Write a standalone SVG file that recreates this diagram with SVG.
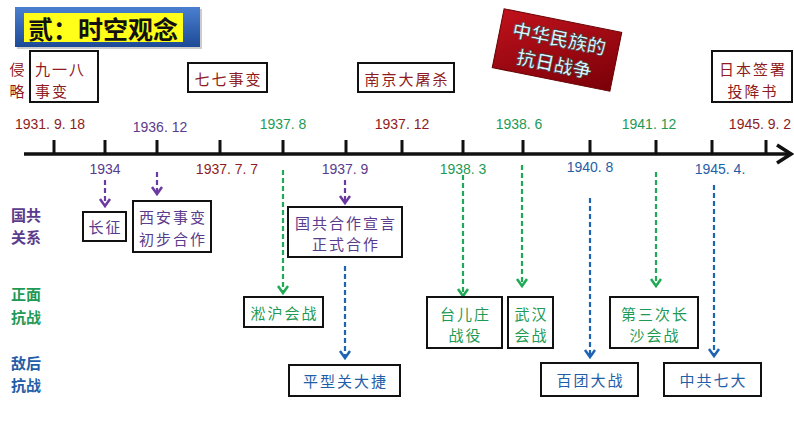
<svg xmlns="http://www.w3.org/2000/svg" width="794" height="447" viewBox="0 0 794 447">
<defs>
<style>
.t{font-family:"Noto Sans CJK SC","Liberation Sans",sans-serif;font-size:15px;dominant-baseline:central;text-anchor:middle;letter-spacing:2px}
.s{text-anchor:start}
.n{font-family:"Liberation Sans","DejaVu Sans",sans-serif;font-size:14px;dominant-baseline:central;text-anchor:middle}
.box{fill:#fff;stroke:#111;stroke-width:2}
.red{fill:#8e1b22}.pur{fill:#5a3b8c}.grn{fill:#1e9a55}.blu{fill:#1f5ea8}
.cat{font-family:"Noto Sans CJK SC",sans-serif;font-size:15px;font-weight:bold;dominant-baseline:central;text-anchor:middle}
.dp{stroke:#6a3aa0;stroke-width:2.2;stroke-dasharray:5 3;fill:none}
.dg{stroke:#1eaa55;stroke-width:2.2;stroke-dasharray:5 3;fill:none}
.db{stroke:#1f64b4;stroke-width:2.2;stroke-dasharray:5 3;fill:none}
.hp{stroke:#6a3aa0;stroke-width:2.5;fill:none}
.hg{stroke:#1eaa55;stroke-width:2.5;fill:none}
.hb{stroke:#1f64b4;stroke-width:2.5;fill:none}
</style>
<linearGradient id="bg" x1="0" y1="0" x2="0" y2="1"><stop offset="0" stop-color="#4a80d0"/><stop offset="1" stop-color="#1d4a96"/></linearGradient>
<linearGradient id="rg" x1="0" y1="0" x2="1" y2="1"><stop offset="0" stop-color="#c0121c"/><stop offset="1" stop-color="#7a0008"/></linearGradient>
</defs>
<rect width="794" height="447" fill="#fff"/>

<g id="title">
<rect x="17" y="9" width="185" height="40" fill="#999" opacity="0.5"/>
<rect x="15" y="7" width="185" height="40" fill="url(#bg)"/>
<rect x="24" y="13" width="159" height="29" fill="#ffff1a"/>
<text x="103" y="28" font-family="Noto Sans CJK SC,sans-serif" font-size="25" font-weight="bold" text-anchor="middle" dominant-baseline="central" fill="#111">贰：时空观念</text>
</g>

<g id="banner" transform="translate(557,50) rotate(11.4)">
<rect x="-60" y="-30" width="120" height="60" fill="url(#rg)" stroke="#600" stroke-width="1"/>
<text x="0" y="-13" font-family="Noto Sans CJK SC,sans-serif" font-size="19" font-weight="bold" text-anchor="middle" dominant-baseline="central" fill="#dff6ff" stroke="#333" stroke-width="0.6">中华民族的</text>
<text x="0" y="13" font-family="Noto Sans CJK SC,sans-serif" font-size="19" font-weight="bold" text-anchor="middle" dominant-baseline="central" fill="#dff6ff" stroke="#333" stroke-width="0.6">抗日战争</text>
</g>

<g id="cat-invasion">
<text class="cat red" x="17" y="68" style="font-weight:normal">侵</text>
<text class="cat red" x="17" y="90" style="font-weight:normal">略</text>
</g>
<g id="cat-gc">
<text class="cat pur" x="26" y="214">国共</text>
<text class="cat pur" x="26" y="236">关系</text>
</g>
<g id="cat-zm">
<text class="cat grn" x="26" y="293">正面</text>
<text class="cat grn" x="26" y="316">抗战</text>
</g>
<g id="cat-dh">
<text class="cat blu" x="26" y="362">敌后</text>
<text class="cat blu" x="26" y="384">抗战</text>
</g>

<g id="n918">
<rect class="box" x="30" y="51" width="68" height="51"/>
<text class="t s red" x="35" y="68">九一八</text>
<text class="t s red" x="35" y="90">事变</text>
</g>
<g id="n77">
<rect class="box" x="188" y="63" width="79" height="29"/>
<text class="t red" x="228.5" y="78">七七事变</text>
</g>
<g id="nnj">
<rect class="box" x="358" y="63" width="96" height="29"/>
<text class="t red" x="407" y="78">南京大屠杀</text>
</g>
<g id="njp">
<rect class="box" x="712" y="51" width="80" height="51"/>
<text class="t red" x="753" y="68">日本签署</text>
<text class="t red" x="753" y="90">投降书</text>
</g>

<g id="timeline">
<line x1="24" y1="154" x2="790" y2="154" stroke="#111" stroke-width="3.5"/>
<polyline points="777,145 791,154 777,163" fill="none" stroke="#111" stroke-width="3.5"/>
<g stroke="#111" stroke-width="3">
<line x1="54" y1="140" x2="54" y2="154"/>
<line x1="105" y1="140" x2="105" y2="154"/>
<line x1="157" y1="140" x2="157" y2="154"/>
<line x1="220" y1="140" x2="220" y2="154"/>
<line x1="283" y1="140" x2="283" y2="154"/>
<line x1="346" y1="140" x2="346" y2="154"/>
<line x1="402" y1="140" x2="402" y2="154"/>
<line x1="463" y1="140" x2="463" y2="154"/>
<line x1="523" y1="140" x2="523" y2="154"/>
<line x1="590" y1="140" x2="590" y2="154"/>
<line x1="656" y1="140" x2="656" y2="154"/>
<line x1="712" y1="140" x2="712" y2="154"/>
<line x1="766" y1="140" x2="766" y2="154"/>
</g>
<text class="n red" x="50" y="124">1931. 9. 18</text>
<text class="n pur" x="160" y="127">1936. 12</text>
<text class="n grn" x="283" y="124">1937. 8</text>
<text class="n red" x="402" y="124">1937. 12</text>
<text class="n grn" x="519" y="124">1938. 6</text>
<text class="n grn" x="649" y="124">1941. 12</text>
<text class="n red" x="760" y="124">1945. 9. 2</text>
<text class="n pur" x="105" y="169">1934</text>
<text class="n red" x="227" y="169">1937. 7. 7</text>
<text class="n pur" x="345" y="169">1937. 9</text>
<text class="n grn" x="463" y="169">1938. 3</text>
<text class="n blu" x="590" y="167">1940. 8</text>
<text class="n blu" x="720" y="169">1945. 4.</text>
</g>

<g id="connectors">
<line class="dp" x1="105" y1="180" x2="105" y2="205"/><polyline class="hp" points="100,199 105,206 110,199"/>
<line class="dp" x1="157" y1="172" x2="157" y2="193"/><polyline class="hp" points="152,187 157,194 162,187"/>
<line class="dp" x1="345" y1="180" x2="345" y2="202"/><polyline class="hp" points="340,196 345,203 350,196"/>
<line class="dg" x1="283" y1="170" x2="283" y2="292"/><polyline class="hg" points="278,286 283,293 288,286"/>
<line class="db" x1="345" y1="266" x2="345" y2="357"/><polyline class="hb" points="340,351 345,358 350,351"/>
<line class="dg" x1="463" y1="175" x2="463" y2="295"/><polyline class="hg" points="458,289 463,296 468,289"/>
<line class="dg" x1="522" y1="165" x2="522" y2="285"/><polyline class="hg" points="517,279 522,286 527,279"/>
<line class="db" x1="590" y1="198" x2="590" y2="356"/><polyline class="hb" points="585,350 590,357 595,350"/>
<line class="dg" x1="656" y1="172" x2="656" y2="285"/><polyline class="hg" points="651,279 656,286 661,279"/>
<line class="db" x1="714" y1="185" x2="714" y2="355"/><polyline class="hb" points="709,349 714,356 719,349"/>
</g>

<g id="ncz">
<rect class="box" x="83" y="212" width="43" height="29"/>
<text class="t pur" x="105.5" y="226.5">长征</text>
</g>
<g id="nxa">
<rect class="box" x="133" y="201" width="78" height="51"/>
<text class="t pur" x="173" y="216">西安事变</text>
<text class="t pur" x="173" y="238">初步合作</text>
</g>
<g id="ngg">
<rect class="box" x="288" y="207" width="114" height="50"/>
<text class="t pur" x="346" y="222">国共合作宣言</text>
<text class="t pur" x="346" y="243">正式合作</text>
</g>
<g id="nsh">
<rect class="box" x="244" y="297" width="79" height="30"/>
<text class="t grn" x="284.5" y="312">淞沪会战</text>
</g>
<g id="npx">
<rect class="box" x="289" y="365" width="111" height="31"/>
<text class="t blu" x="345.5" y="380.5">平型关大捷</text>
</g>
<g id="ntez">
<rect class="box" x="427" y="297" width="75" height="51"/>
<text class="t grn" x="465.5" y="313">台儿庄</text>
<text class="t grn" x="465.5" y="334">战役</text>
</g>
<g id="nwh">
<rect class="box" x="508" y="297" width="45" height="51"/>
<text class="t grn" x="531.5" y="313">武汉</text>
<text class="t grn" x="531.5" y="334">会战</text>
</g>
<g id="nbt">
<rect class="box" x="541" y="363" width="97" height="33"/>
<text class="t blu" x="590.5" y="379.5">百团大战</text>
</g>
<g id="ncs">
<rect class="box" x="610" y="297" width="88" height="51"/>
<text class="t grn" x="655" y="313">第三次长</text>
<text class="t grn" x="655" y="334">沙会战</text>
</g>
<g id="nqd">
<rect class="box" x="664" y="363" width="97" height="33"/>
<text class="t blu" x="713.5" y="379.5">中共七大</text>
</g>
</svg>
